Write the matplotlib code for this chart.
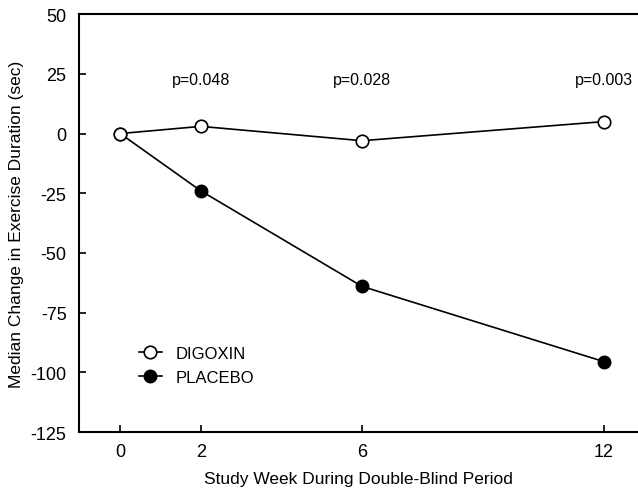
import matplotlib
matplotlib.use("Agg")
import matplotlib.pyplot as plt

weeks = [0, 2, 6, 12]
digoxin = [0, 3, -3, 5]
placebo = [0, -24, -64, -95.5]
p_labels = ["p=0.048", "p=0.028", "p=0.003"]
p_weeks = [2, 6, 12]
yticks = [50, 25, 0, -25, -50, -75, -100, -125]

plt.rcParams['font.family'] = ['Liberation Sans', 'DejaVu Sans']
plt.rcParams['axes.unicode_minus'] = False

fig = plt.figure(figsize=(6.38, 4.89), dpi=100)
ax = fig.add_axes([0.124, 0.1145, 0.876, 0.8545])

ax.plot(weeks, placebo, '-o', color='black', mfc='black', mec='black',
        ms=9, lw=1.2, label='PLACEBO', zorder=2)
ax.plot(weeks, digoxin, '-o', color='black', mfc='white', mec='black',
        ms=9, mew=1.2, lw=1.2, label='DIGOXIN', zorder=3)

for w, t in zip(p_weeks, p_labels):
    ax.text(w, 22.5, t, ha='center', va='center', fontsize=11.5)

ax.set_xlim(-1.02, 12.85)
ax.set_ylim(-125, 50)
ax.set_xticks(weeks)
ax.set_yticks(yticks)
ax.tick_params(direction='in', length=5, width=1.2, labelsize=13)
ax.tick_params(axis='x', pad=8)
ax.tick_params(axis='y', pad=9)
for s in ['left', 'bottom', 'top']:
    ax.spines[s].set_linewidth(1.5)
ax.spines['right'].set_visible(False)

ax.set_xlabel('Study Week During Double-Blind Period', fontsize=12.5, labelpad=8)
ax.set_ylabel('Median Change in Exercise Duration (sec)', fontsize=12.5, labelpad=5)

h, l = ax.get_legend_handles_labels()
ax.legend([h[1], h[0]], [l[1], l[0]], loc='center left',
          bbox_to_anchor=(0.08, 0.16), frameon=False, fontsize=12,
          handlelength=1.4, handletextpad=0.8, labelspacing=0.55)

fig.savefig('out.png', dpi=100)
